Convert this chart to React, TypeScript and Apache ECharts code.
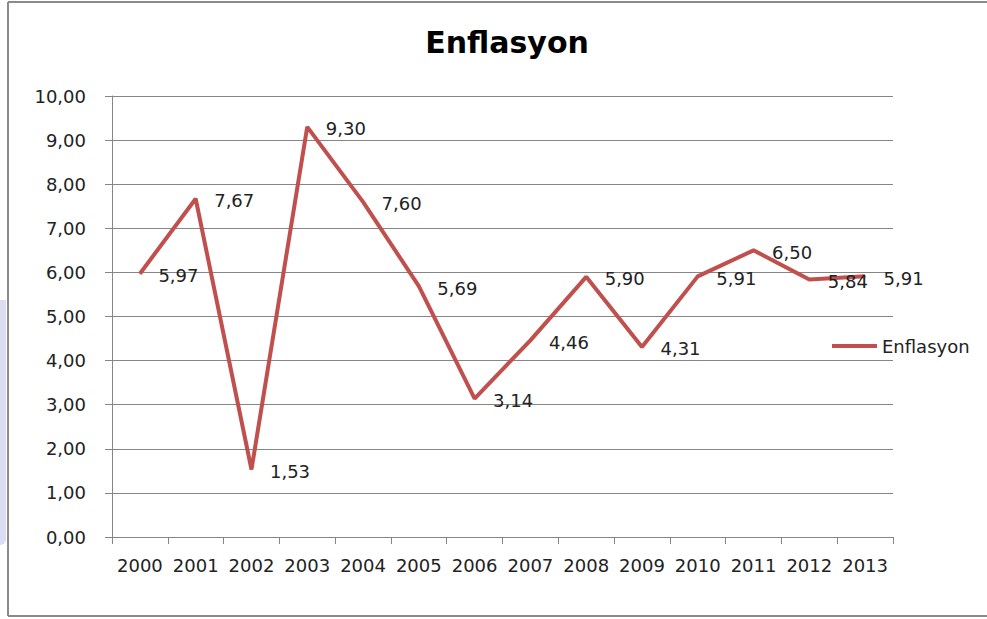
import React, { useEffect, useRef } from "react";
import * as echarts from "echarts";

const years = ["2000", "2001", "2002", "2003", "2004", "2005", "2006", "2007", "2008", "2009", "2010", "2011", "2012", "2013"];
const enflasyon = [5.97, 7.67, 1.53, 9.3, 7.6, 5.69, 3.14, 4.46, 5.9, 4.31, 5.91, 6.5, 5.84, 5.91];
const seriesName = "Enflasyon";
const titleText = "Enflasyon";

const fmt = (v: number) => v.toFixed(2).replace(".", ",");
const FONT = "'DejaVu Sans', sans-serif";
const FS = 18;

export default function App() {
  const ref = useRef<HTMLDivElement>(null);
  useEffect(() => {
    const chart = echarts.init(ref.current!, null, { renderer: "svg" });
    chart.setOption({
      animation: false,
      backgroundColor: "#ffffff",
      textStyle: { fontFamily: FONT },
      title: {
        text: titleText,
        left: 502,
        textAlign: "center",
        top: 22,
        textStyle: { fontFamily: FONT, fontWeight: "bold", fontSize: 30, color: "#000" },
      },
      legend: {
        data: [{ name: seriesName, icon: "rect" }],
        left: 827,
        top: 332,
        itemWidth: 45,
        itemHeight: 4,
        itemGap: 0,
        textStyle: { fontFamily: FONT, fontSize: FS, color: "#222", padding: [0, 0, 0, 0] },
      },
      grid: { left: 112, right: 94, top: 96, bottom: 82, containLabel: false },
      xAxis: {
        type: "category",
        data: years,
        boundaryGap: true,
        axisLine: { lineStyle: { color: "#868686", width: 1 } },
        axisTick: { show: true, length: 7, alignWithLabel: false, lineStyle: { color: "#868686" } },
        axisLabel: { fontFamily: FONT, fontSize: FS, color: "#222", margin: 19, interval: 0 },
      },
      yAxis: {
        type: "value",
        min: 0,
        max: 10,
        interval: 1,
        axisLine: { show: true, lineStyle: { color: "#868686", width: 1 } },
        axisTick: { show: true, length: 7, lineStyle: { color: "#868686" } },
        splitLine: { show: true, lineStyle: { color: "#868686", width: 1 } },
        axisLabel: { fontFamily: FONT, fontSize: FS, color: "#222", margin: 26, formatter: (v: number) => fmt(v) },
      },
      series: [
        {
          name: seriesName,
          type: "line",
          data: enflasyon,
          symbol: "circle",
          symbolSize: 1,
          lineStyle: { color: "#c0504d", width: 4 },
          itemStyle: { color: "#c0504d" },
          label: {
            show: true,
            position: "right",
            distance: 18,
            offset: [0, 2],
            fontFamily: FONT,
            fontSize: FS,
            color: "#222",
            formatter: (p: any) => fmt(p.value),
          },
        },
      ],
      graphic: [
        { type: "rect", shape: { x: 0, y: 300, width: 6, height: 245, r: [0, 0, 6, 0] }, style: { fill: "#dcdcf2" }, silent: true },
        { type: "line", shape: { x1: 8, y1: 2, x2: 987, y2: 2 }, style: { stroke: "#8a8a8a", lineWidth: 2 }, silent: true },
        { type: "line", shape: { x1: 8, y1: 2, x2: 8, y2: 616 }, style: { stroke: "#8a8a8a", lineWidth: 2 }, silent: true },
        { type: "line", shape: { x1: 8, y1: 616, x2: 987, y2: 616 }, style: { stroke: "#8a8a8a", lineWidth: 2 }, silent: true },
      ],
    });
    return () => chart.dispose();
  }, []);
  return <div ref={ref} style={{ position: "fixed", left: 0, top: 0, width: 987, height: 619 }} />;
}
